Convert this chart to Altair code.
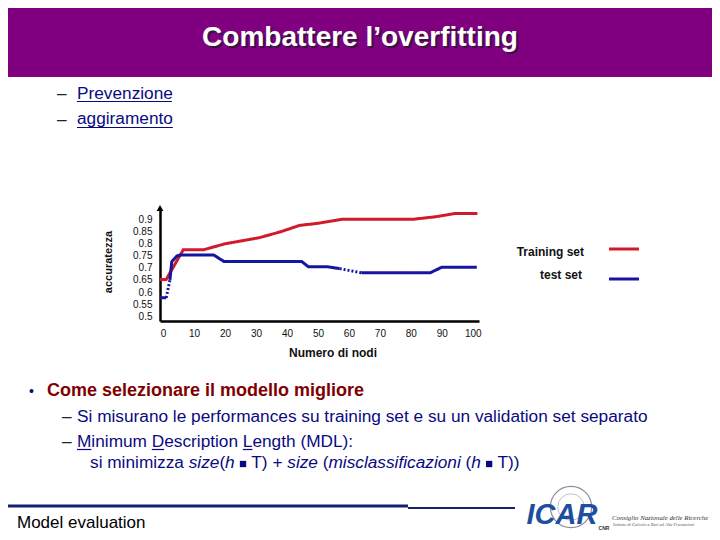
import altair as alt
import pandas as pd

# ---------------- data ----------------
train_x = [-1, 1, 6.5, 13, 20, 31, 38, 44, 50, 58, 81, 88, 94, 101.5]
train_y = [0.652, 0.652, 0.775, 0.775, 0.80, 0.825, 0.85, 0.876, 0.885, 0.902, 0.902, 0.912, 0.925, 0.925]

test_x = [-1, 1, 1, 2.2, 2.2, 2.8, 4.5, 6, 16.3, 19.6, 44.7, 46.9, 53, 57, 57, 64, 64, 86.3, 90, 101.3]
test_y = [0.576, 0.576, 0.576, 0.65, 0.65, 0.726, 0.75, 0.754, 0.754, 0.727, 0.727, 0.705, 0.705, 0.697,
          0.697, 0.68, 0.68, 0.68, 0.703, 0.703]
test_seg = ["b0", "b0", "b1", "b1", "b2", "b2", "b2", "b2", "b2", "b2", "b2", "b2", "b2", "b2",
            "b3", "b3", "b4", "b4", "b4", "b4"]
test_style = ["solid", "solid", "dotted", "dotted"] + ["solid"] * 10 + ["dotted", "dotted"] + ["solid"] * 4

series_names = ["Training set", "test set"]
x_ticks = [0, 10, 20, 30, 40, 50, 60, 70, 80, 90, 100]
y_ticks = [0.5, 0.55, 0.6, 0.65, 0.7, 0.75, 0.8, 0.85, 0.9]

title_text = "Combattere l\u2019overfitting"
x_title = "Numero di nodi"
y_title = "accuratezza"

# ---------------- style ----------------
RED = "#d11a2a"
BLUE = "#1515a0"
NAVY = "#0a0a80"
MAROON = "#800000"
PURPLE = "#800080"
FONT = "Liberation Sans"

# page -> plot-area offset (8px page margin + padding)
OX, OY = 160, 210
PW, PH = 319, 111
TOTAL_W, TOTAL_H = 704, 524

rows = []
for xv, yv in zip(train_x, train_y):
    rows.append({"x": xv, "y": yv, "series": series_names[0], "seg": "r", "style": "solid"})
for xv, yv, sg, st in zip(test_x, test_y, test_seg, test_style):
    rows.append({"x": xv, "y": yv, "series": series_names[1], "seg": sg, "style": st})
df = pd.DataFrame(rows)

lines = alt.Chart(df).mark_line(strokeWidth=3, strokeCap="butt").encode(
    x=alt.X("x:Q", scale=alt.Scale(domain=[-1, 102], nice=False, zero=False),
            axis=alt.Axis(values=x_ticks, title=None, grid=False, ticks=False, tickSize=0,
                          domainColor="black", domainWidth=2.5, labelFont=FONT, labelFontSize=10,
                          labelColor="#111111", labelPadding=7, labelFlush=False, labelOverlap=False)),
    y=alt.Y("y:Q", scale=alt.Scale(domain=[0.48, 0.94], nice=False, zero=False),
            axis=alt.Axis(values=y_ticks, format=".2~f", title=None, grid=False, ticks=False, tickSize=0,
                          domainColor="black", domainWidth=2.5, labelFont=FONT, labelFontSize=10,
                          labelColor="#111111", labelPadding=8, labelOverlap=False)),
    color=alt.Color("series:N", scale=alt.Scale(domain=series_names, range=[RED, BLUE]), legend=None),
    strokeDash=alt.StrokeDash("style:N", scale=alt.Scale(domain=["solid", "dotted"], range=[[1, 0], [2, 2]]),
                              legend=None),
    detail="seg:N",
)

one = pd.DataFrame({"a": [0]})


def T(text, px, py, size=17, color=NAVY, weight="normal", style="normal", align="left",
      baseline="alphabetic", font=FONT, angle=0):
    return alt.Chart(pd.DataFrame({"t": [text]})).mark_text(
        align=align, baseline=baseline, fontSize=size, font=font, fontWeight=weight,
        fontStyle=style, color=color, angle=angle
    ).encode(x=alt.value(px - OX), y=alt.value(py - OY), text="t:N")


def R(px1, px2, py, color, width):
    return alt.Chart(one).mark_rule(color=color, strokeWidth=width).encode(
        x=alt.value(px1 - OX), x2=alt.value(px2 - OX), y=alt.value(py - OY))


# Arial / Liberation Sans advance widths (per 1000 em)
W = dict(zip("abcdefghijklmnopqrstuvwxyz",
             [556, 556, 500, 556, 556, 278, 556, 556, 222, 222, 500, 222, 833, 556, 556, 556, 556, 333, 500,
              278, 556, 500, 722, 500, 500, 500]))
W.update({" ": 278, "(": 333, ")": 333, "+": 584, ":": 278, "M": 833, "D": 722, "L": 556, "T": 611})


def tw(s, size):
    return sum(W[c] for c in s) * size / 1000.0


SUB = 17.25  # sub-item font size

layers = []
# purple header
layers.append(alt.Chart(one).mark_rect(color=PURPLE).encode(
    x=alt.value(0 - OX), x2=alt.value(720 - OX), y=alt.value(0 - OY), y2=alt.value(77 - OY)))
layers.append(T(title_text, 362, 48, size=28, color="#3a1440", weight="bold", align="center"))
layers.append(T(title_text, 360, 46, size=28, color="white", weight="bold", align="center"))

# top sub-items
layers.append(T("\u2013", 57, 99, size=SUB, color="#222222"))
layers.append(T("Prevenzione", 77, 99, size=SUB))
layers.append(R(77, 77 + tw("prevenzione", SUB) + 1, 101.5, NAVY, 1.2))
layers.append(T("\u2013", 57, 125, size=SUB, color="#222222"))
layers.append(T("aggiramento", 77, 124, size=SUB))
layers.append(R(77, 77 + tw("aggiramento", SUB), 127.5, NAVY, 1.2))

# chart decorations
layers.append(alt.Chart(one).mark_point(shape="triangle-up", filled=True, color="black", size=45, opacity=1).encode(
    x=alt.value(0), y=alt.value(-2)))
layers.append(T(y_title, 112, 262, size=11, color="#111111", weight="bold", angle=270, align="center"))
layers.append(T(x_title, 333, 357, size=12, color="#111111", weight="bold", align="center"))
layers.append(T(series_names[0], 584, 256, size=12, color="#111111", weight="bold", align="right"))
layers.append(T(series_names[1], 582, 279, size=12, color="#111111", weight="bold", align="right"))
layers.append(R(609, 639, 249, RED, 3))
layers.append(R(609, 639, 279, BLUE, 3))
layers.append(lines)

# lower bullets
layers.append(T("\u2022", 29, 396, size=14, color=NAVY))
layers.append(T("Come selezionare il modello migliore", 47, 396, size=18, color=MAROON, weight="bold"))
layers.append(T("\u2013", 62, 422, size=SUB, color="#222222"))
layers.append(T("Si misurano le performances su training set e su un validation set separato", 77, 422, size=SUB))
layers.append(T("\u2013", 62, 447, size=SUB, color="#222222"))
layers.append(T("Minimum Description Length (MDL):", 77, 447, size=SUB))
for s_before, letter in [("", "M"), ("Minimum ", "D"), ("Minimum Description ", "L")]:
    x0 = 77 + tw(s_before, SUB)
    layers.append(R(x0, x0 + tw(letter, SUB), 449.5, NAVY, 1.2))

segs = [("si minimizza", "normal"), (" size", "italic"), ("(", "normal"), ("h", "italic"), ("SQ", "sq"),
        ("T) +", "normal"), (" size", "italic"), (" (", "normal"), ("misclassificazioni", "italic"),
        (" (", "normal"), ("h", "italic"), ("SQ", "sq"), ("T))", "normal")]
cx = 90
for s, st in segs:
    if st == "sq":
        sp = tw(" ", SUB)
        layers.append(alt.Chart(one).mark_point(shape="square", filled=True, color=NAVY, size=40, opacity=1).encode(
            x=alt.value(cx + sp + 3.5 - OX), y=alt.value(468 - 4 - OY)))
        cx += 2 * sp + 7
    else:
        lead = len(s) - len(s.lstrip(" "))
        cx += tw(" " * lead, SUB)
        body = s.lstrip(" ")
        layers.append(T(body, cx, 468, size=SUB, style=st))
        cx += tw(body, SUB)

# footer
layers.append(R(0, 408, 506, "#15206e", 3))
layers.append(R(408, 515, 508, "#15206e", 2))
layers.append(T("Model evaluation", 17, 528, color="black"))

# ICAR logo (approximation): wireframe globe + lettering
globe = alt.Chart(one).mark_point(shape="circle", filled=False, strokeWidth=1.2, opacity=1).encode(
    x=alt.value(571 - OX), y=alt.value(507 - OY), size=alt.value(1700), color=alt.value("#8a8a9a"))
globe_inner = alt.Chart(one).mark_point(shape="circle", filled=False, strokeWidth=0.8, opacity=1).encode(
    x=alt.value(571 - OX), y=alt.value(507 - OY), size=alt.value(700), color=alt.value("#b0b0bc"))
layers.append(globe)
layers.append(globe_inner)
layers.append(T("ICAR", 562, 524, size=29, color="#1d4f9e", weight="bold", style="italic", align="center"))
layers.append(T("CNR", 604, 530, size=5, color="#333333", weight="bold", align="center"))
layers.append(T("Consiglio Nazionale delle Ricerche", 612, 520, size=6.8, color="#333333", style="italic",
                font="Liberation Serif"))
layers.append(T("Istituto di Calcolo e Reti ad Alte Prestazioni", 613, 526, size=4.6, color="#555555",
                style="italic", font="Liberation Serif"))

chart = alt.layer(*layers).properties(
    width=PW, height=PH,
    padding={"left": 152, "top": 202, "right": TOTAL_W - 152 - PW, "bottom": TOTAL_H - 202 - PH},
    autosize=alt.AutoSizeParams(type="none"),
    background="white",
).configure_view(stroke=None)

chart.save("out.html", embed_options={"renderer": "svg", "actions": False})
